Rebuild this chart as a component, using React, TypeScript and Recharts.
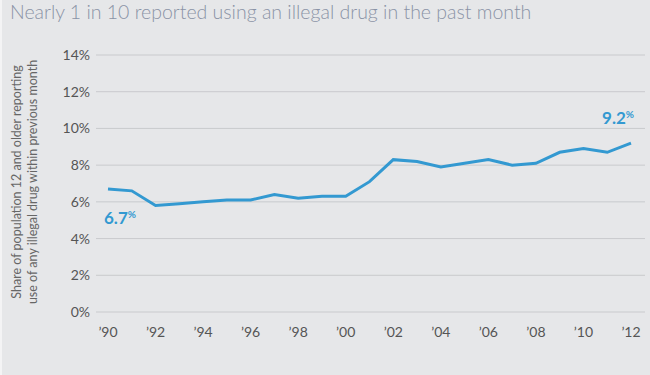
import { LineChart, Line, XAxis, YAxis, CartesianGrid, LabelList } from 'recharts';

const years = [
  1990, 1991, 1992, 1993, 1994, 1995, 1996, 1997, 1998, 1999, 2000, 2001,
  2002, 2003, 2004, 2005, 2006, 2007, 2008, 2009, 2010, 2011, 2012,
];
const shares = [
  6.7, 6.6, 5.8, 5.9, 6.0, 6.1, 6.1, 6.4, 6.2, 6.3, 6.3, 7.1,
  8.3, 8.2, 7.9, 8.1, 8.3, 8.0, 8.1, 8.7, 8.9, 8.7, 9.2,
];
const xTicks = [1990, 1992, 1994, 1996, 1998, 2000, 2002, 2004, 2006, 2008, 2010, 2012];
const yTicks = [0, 2, 4, 6, 8, 10, 12, 14];

const data = years.map((year, i) => ({ year, share: shares[i] }));

const BLUE = '#3399d1';
const FONT = 'Lato, "Open Sans", sans-serif';

function EndLabel(props: any) {
  const { x, y, index, value } = props;
  const last = index === data.length - 1;
  if (index !== 0 && !last) return null;
  const tx = last ? x + 3 : x - 4;
  const ty = last ? y - 19 : y + 35;
  return (
    <text
      x={tx}
      y={ty}
      textAnchor={last ? 'end' : 'start'}
      fill={BLUE}
      fontFamily={FONT}
      fontWeight={700}
      fontSize={17}
    >
      {value.toFixed(1)}
      <tspan fontSize={10} dy={-6}>%</tspan>
    </text>
  );
}

function AxisTitle() {
  const cy = 182;
  return (
    <g fill="#666" fontFamily={FONT} fontSize={12.5} textAnchor="middle">
      <text transform={`translate(21, ${cy}) rotate(-90)`}>
        Share of population 12 and older reporting
      </text>
      <text transform={`translate(37, ${cy}) rotate(-90)`}>
        use of any illegal drug within previous month
      </text>
    </g>
  );
}

export default function App() {
  return (
    <div
      style={{
        position: 'fixed',
        left: 0,
        top: 0,
        width: 650,
        height: 375,
        background: '#e6e7e9',
        borderLeft: '2px solid #f4f4f5',
        boxSizing: 'border-box',
        overflow: 'hidden',
      }}
    >
      <div
        style={{
          position: 'absolute',
          left: 8,
          top: 2,
          lineHeight: '20px',
          fontFamily: FONT,
          fontWeight: 300,
          fontSize: 19.5,
          color: '#8a93a6',
          whiteSpace: 'nowrap',
        }}
      >
        Nearly 1 in 10 reported using an illegal drug in the past month
      </div>
      <LineChart
        width={648}
        height={375}
        data={data}
        margin={{ top: 55, right: 3, bottom: 33, left: 0 }}
        style={{ position: 'absolute', left: -2, top: 0 }}
      >
        <CartesianGrid vertical={false} stroke="#c9cacd" strokeWidth={1} />
        <XAxis
          dataKey="year"
          type="number"
          domain={[1990, 2012]}
          ticks={xTicks}
          tickFormatter={(v: number) => '\u2019' + String(v).slice(2)}
          axisLine={false}
          tickLine={false}
          tickMargin={9}
          padding={{ left: 12, right: 14 }}
          height={30}
          tick={{ fill: '#555', fontSize: 14, fontFamily: FONT }}
        />
        <YAxis
          domain={[0, 14]}
          ticks={yTicks}
          tickFormatter={(v: number) => `${v}%`}
          axisLine={false}
          tickLine={false}
          tickMargin={0}
          width={96}
          tick={{ fill: '#555', fontSize: 14, fontFamily: FONT }}
          label={<AxisTitle />}
        />
        <Line
          dataKey="share"
          stroke={BLUE}
          strokeWidth={3}
          dot={false}
          isAnimationActive={false}
        >
          <LabelList dataKey="share" content={<EndLabel />} />
        </Line>
      </LineChart>
    </div>
  );
}
